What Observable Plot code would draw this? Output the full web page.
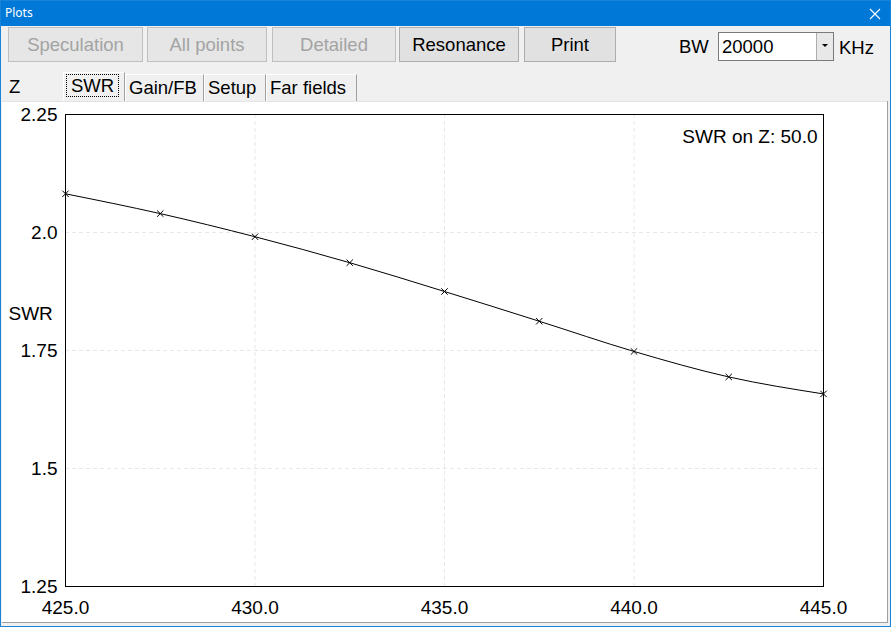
<!DOCTYPE html>
<html>
<head>
<meta charset="utf-8">
<script src="https://cdn.jsdelivr.net/npm/d3@7"></script>
<script src="https://cdn.jsdelivr.net/npm/@observablehq/plot@0.6"></script>
<style>
  html, body { margin: 0; padding: 0; background: #f0f0f0; }
  #win { position: absolute; left: 0; top: 0; width: 891px; height: 627px; background: #f0f0f0; overflow: hidden;
         font-family: "Liberation Sans", Arial, sans-serif; }
  #titlebar { position: absolute; left: 0; top: 0; width: 891px; height: 26px; background: #0078d7; }
  #title { position: absolute; left: 5px; top: 5px; font: 12px "Noto Sans", "DejaVu Sans", sans-serif; color: #fff; line-height: 16px; }
  #close { position: absolute; left: 869px; top: 8px; width: 12px; height: 12px; }
  .btn { position: absolute; top: 27px; height: 35px; box-sizing: border-box; border: 1px solid #adadad; background: #e1e1e1;
         font-size: 18.5px; line-height: 34px; text-align: center; color: #000; }
  .btn.dis { color: #a3a3a3; border-color: #bfbfbf; background: #e6e6e6; }
  .lbl { position: absolute; font-size: 18.5px; line-height: 22px; color: #000; }
  #combo { position: absolute; left: 718px; top: 32px; width: 116px; height: 29px; box-sizing: border-box; border: 1px solid #7a7a7a; background: #fff; }
  #combo .val { position: absolute; left: 3px; top: 2px; font-size: 18.5px; line-height: 24px; }
  #combo .dd { position: absolute; right: 0px; top: 0px; width: 17px; height: 27px; box-sizing: border-box; border-left: 1px solid #adadad; background: #e8e8e8; }
  #combo .dd svg { position: absolute; left: 4px; top: 10px; }
  .tab { position: absolute; top: 74px; height: 27px; box-sizing: border-box; font-size: 18.5px; line-height: 26px; color: #000;
         border-top: 1px solid #fff; border-left: 1px solid #fff; border-right: 1px solid #a0a0a0; background: #f0f0f0; padding-left: 3px; }
  .tab.sel { top: 72px; height: 29px; line-height: 25px; }
  .tab.sel span { outline: 1px dotted #000; outline-offset: 0px; padding: 0 4px; }
  #panel { position: absolute; left: 2px; top: 101px; width: 885px; height: 521px; background: #fff;
           border-top: 1px solid #e3e3e3; box-sizing: border-box; }
  #edge { position: absolute; left: 0; top: 0; width: 891px; height: 627px; box-sizing: border-box; border: 1px solid #1883d7; pointer-events: none; }
  #edgeR { position: absolute; left: 887px; top: 101px; width: 1px; height: 522px; background: #a0a0a0; }
  #edgeB { position: absolute; left: 2px; top: 622px; width: 886px; height: 1px; background: #a0a0a0; }
  #chart { position: absolute; left: 0; top: 101px; }
</style>
</head>
<body>
<div id="win">
  <div id="titlebar">
    <div id="title">Plots</div>
    <svg id="close" viewBox="0 0 12 12"><path d="M1,1L11,11M11,1L1,11" stroke="#fff" stroke-width="1.1" fill="none"/></svg>
  </div>

  <div class="btn dis" style="left:8px;width:135px;">Speculation</div>
  <div class="btn dis" style="left:147px;width:120px;">All points</div>
  <div class="btn dis" style="left:272px;width:124px;">Detailed</div>
  <div class="btn" style="left:399px;width:120px;">Resonance</div>
  <div class="btn" style="left:524px;width:92px;">Print</div>

  <div class="lbl" style="left:679px;top:36px;">BW</div>
  <div id="combo"><div class="val">20000</div>
    <div class="dd"><svg width="8" height="5" viewBox="0 0 8 5"><path d="M1,1L7,1L4,4Z" fill="#000"/></svg></div>
  </div>
  <div class="lbl" style="left:839px;top:37px;">KHz</div>

  <div class="tab" style="left:4px;width:59px;border:none;padding-left:5px;">Z</div>
  <div class="tab sel" style="left:63px;width:62px;"><span>SWR</span></div>
  <div class="tab" style="left:125px;width:79px;">Gain/FB</div>
  <div class="tab" style="left:204px;width:62px;">Setup</div>
  <div class="tab" style="left:266px;width:91px;">Far fields</div>

  <div id="panel"></div>
  <div id="edgeR"></div>
  <div id="edgeB"></div>
  <div id="chart"></div>
  <div id="edge"></div>
</div>

<script>
// ---- data ----
const freqMHz = [425, 427.5, 430, 432.5, 435, 437.5, 440, 442.5, 445];
const swrValues = [2.082, 2.040, 1.991, 1.936, 1.875, 1.812, 1.748, 1.694, 1.658];
const xTicks = [425, 430, 435, 440, 445];
const xTickLabels = ["425.0", "430.0", "435.0", "440.0", "445.0"];
const yTicks = [1.25, 1.5, 1.75, 2.0, 2.25];
const yTickLabels = ["1.25", "1.5", "1.75", "2.0", "2.25"];
const xGridLines = [430, 435, 440];
const yGridLines = [1.5, 1.75, 2.0];
const yAxisLabel = "SWR";
const noteText = "SWR on Z: 50.0";

const data = freqMHz.map((f, i) => ({f, swr: swrValues[i]}));

const chart = Plot.plot({
  width: 887,
  height: 521,
  marginLeft: 65,
  marginRight: 64,
  marginTop: 13,
  marginBottom: 36,
  style: {
    fontFamily: "'Liberation Sans', Arial, sans-serif",
    fontSize: "19px",
    background: "transparent",
    color: "#000",
    overflow: "visible"
  },
  x: {domain: [425, 445]},
  y: {domain: [1.25, 2.25]},
  marks: [
    Plot.gridX(xGridLines, {stroke: "#e8e8e8", strokeOpacity: 1, strokeDasharray: "4,3"}),
    Plot.gridY(yGridLines, {stroke: "#e8e8e8", strokeOpacity: 1, strokeDasharray: "4,3"}),
    Plot.frame({stroke: "#000"}),
    Plot.axisX(xTicks, {tickSize: 0, tickPadding: 14, label: null,
      tickFormat: d => xTickLabels[xTicks.indexOf(d)]}),
    Plot.axisY(yTicks, {tickSize: 0, tickPadding: 8, label: null,
      tickFormat: d => yTickLabels[yTicks.indexOf(d)]}),
    Plot.line(data, {x: "f", y: "swr", stroke: "#000", strokeWidth: 1, curve: "monotone-x"}),
    Plot.dot(data, {x: "f", y: "swr", symbol: "times", r: 3, stroke: "#000", strokeWidth: 1}),
    Plot.text([noteText], {frameAnchor: "top-right", dx: -6, dy: 22, lineAnchor: "middle", textAnchor: "end", fill: "#000"}),
    Plot.text([yAxisLabel], {frameAnchor: "left", dx: -57, dy: -37, lineAnchor: "middle", textAnchor: "start", fill: "#000"})
  ]
});
document.getElementById("chart").appendChild(chart);
</script>
</body>
</html>
